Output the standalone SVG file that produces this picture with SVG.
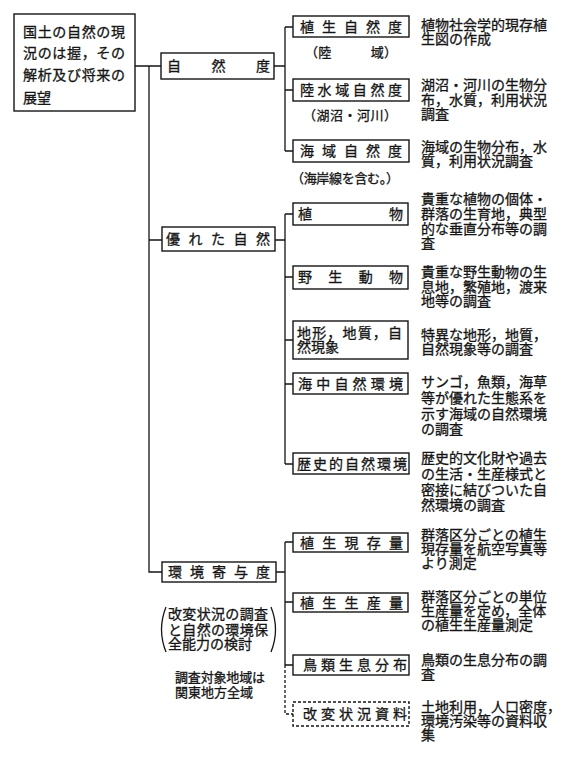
<svg xmlns="http://www.w3.org/2000/svg" width="568" height="757" viewBox="0 0 568 757">
<style>
text{font-family:"Noto Sans CJK JP","Noto Sans CJK SC",sans-serif;font-size:14px;fill:#141414;stroke:#141414;stroke-width:0.3}
.box{fill:#fff;stroke:#141414;stroke-width:1.4}
.dbox{fill:#fff;stroke:#141414;stroke-width:1.4;stroke-dasharray:3 2}
.ln{fill:none;stroke:#141414;stroke-width:1.3}
.dln{fill:none;stroke:#141414;stroke-width:1.3;stroke-dasharray:3 2}
.sm{font-size:13px}
</style>
<rect width="568" height="757" fill="#fff"/>
<g id="connectors">
<path class="ln" d="M135,66H161M149,66V572H162"/>
<path class="ln" d="M274,66H285M285,27V151M285,27H293M285,90H293M285,151H293"/>
<path class="ln" d="M149,240H162M275,240H285M285,214V464M285,214H293M285,277H293M285,340H293M285,384H293M285,464H293"/>
<path class="ln" d="M276,572H285M285,542V665M285,542H293M285,602H293M285,665H293"/>
<path class="dln" d="M285,665V714H293"/>
<path class="ln" d="M166,607Q157,629.5 166,652M271,607Q280,629.5 271,652"/>
</g>
<g id="root">
<rect class="box" x="14" y="14" width="121" height="97"/>
<text x="23" y="37" textLength="102" lengthAdjust="spacing">国土の自然の現</text>
<text x="23" y="58" textLength="102" lengthAdjust="spacing">況のは握，その</text>
<text x="23" y="80" textLength="102" lengthAdjust="spacing">解析及び将来の</text>
<text x="23" y="103">展望</text>
</g>
<g id="shizendo">
<rect class="box" x="161" y="53" width="113" height="26"/>
<text x="167" y="71" textLength="103" lengthAdjust="spacing">自然度</text>
</g>
<g id="shokusei-shizendo">
<rect class="box" x="293" y="16" width="116" height="21"/>
<text x="300" y="31.5" textLength="102" lengthAdjust="spacing">植生自然度</text>
<text class="sm" x="305" y="57" textLength="92" lengthAdjust="spacing">（陸　　　域）</text>
<text x="421" y="30">植物社会学的現存植</text>
<text x="421" y="44">生図の作成</text>
</g>
<g id="rikusuiiki">
<rect class="box" x="293" y="79" width="116" height="22"/>
<text x="300" y="95" textLength="102" lengthAdjust="spacing">陸水域自然度</text>
<text class="sm" x="303" y="120" textLength="94" lengthAdjust="spacing">（湖沼・河川）</text>
<text x="421" y="90">湖沼・河川の生物分</text>
<text x="421" y="105">布，水質，利用状況</text>
<text x="421" y="119">調査</text>
</g>
<g id="kaiiki">
<rect class="box" x="293" y="140" width="116" height="22"/>
<text x="300" y="156" textLength="102" lengthAdjust="spacing">海域自然度</text>
<text class="sm" x="291" y="183" textLength="108" lengthAdjust="spacing">（海岸線を含む。）</text>
<text x="421" y="152">海域の生物分布，水</text>
<text x="421" y="166">質，利用状況調査</text>
</g>
<g id="sugureta">
<rect class="box" x="162" y="227" width="113" height="24"/>
<text x="166" y="244" textLength="104" lengthAdjust="spacing">優れた自然</text>
</g>
<g id="shokubutsu">
<rect class="box" x="293" y="203" width="115" height="22"/>
<text x="298" y="219" textLength="105" lengthAdjust="spacing">植　　　　　物</text>
<text x="421" y="204">貴重な植物の個体・</text>
<text x="421" y="219">群落の生育地，典型</text>
<text x="421" y="234">的な垂直分布等の調</text>
<text x="421" y="248">査</text>
</g>
<g id="yasei">
<rect class="box" x="293" y="266" width="115" height="23"/>
<text x="298" y="282" textLength="105" lengthAdjust="spacing">野生動物</text>
<text x="421" y="277">貴重な野生動物の生</text>
<text x="421" y="292">息地，繁殖地，渡来</text>
<text x="421" y="306">地等の調査</text>
</g>
<g id="chikei">
<rect class="box" x="293" y="321" width="115" height="38"/>
<text x="297" y="338" textLength="105" lengthAdjust="spacing">地形，地質，自</text>
<text x="297" y="352">然現象</text>
<text x="421" y="340">特異な地形，地質，</text>
<text x="421" y="354">自然現象等の調査</text>
</g>
<g id="kaichu">
<rect class="box" x="293" y="373" width="115" height="21"/>
<text x="298" y="389" textLength="105" lengthAdjust="spacing">海中自然環境</text>
<text x="421" y="387">サンゴ，魚類，海草</text>
<text x="421" y="403">等が優れた生態系を</text>
<text x="421" y="419">示す海域の自然環境</text>
<text x="421" y="434">の調査</text>
</g>
<g id="rekishi">
<rect class="box" x="293" y="453" width="116" height="21"/>
<text x="297" y="469" textLength="110" lengthAdjust="spacing">歴史的自然環境</text>
<text x="421" y="463">歴史的文化財や過去</text>
<text x="421" y="479">の生活・生産様式と</text>
<text x="421" y="495">密接に結びついた自</text>
<text x="421" y="510">然環境の調査</text>
</g>
<g id="kankyo">
<rect class="box" x="162" y="562" width="114" height="20"/>
<text x="168" y="577" textLength="102" lengthAdjust="spacing">環境寄与度</text>
</g>
<g id="note1">
<text x="168" y="619" textLength="100" lengthAdjust="spacing">改変状況の調査</text>
<text x="168" y="635" textLength="100" lengthAdjust="spacing">と自然の環境保</text>
<text x="168" y="649">全能力の検討</text>
</g>
<g id="note2">
<text class="sm" x="175" y="682" textLength="90" lengthAdjust="spacing">調査対象地域は</text>
<text class="sm" x="175" y="697">関東地方全域</text>
</g>
<g id="genzonryo">
<rect class="box" x="293" y="533" width="115" height="19"/>
<text x="300" y="547.5" textLength="103" lengthAdjust="spacing">植生現存量</text>
<text x="421" y="540">群落区分ごとの植生</text>
<text x="421" y="554">現存量を航空写真等</text>
<text x="421" y="568">より測定</text>
</g>
<g id="seisanryo">
<rect class="box" x="293" y="593" width="115" height="19"/>
<text x="300" y="607.5" textLength="103" lengthAdjust="spacing">植生生産量</text>
<text x="421" y="602">群落区分ごとの単位</text>
<text x="421" y="616">生産量を定め，全体</text>
<text x="421" y="630">の植生生産量測定</text>
</g>
<g id="chorui">
<rect class="box" x="293" y="655" width="116" height="20"/>
<text x="303" y="670" textLength="104" lengthAdjust="spacing">鳥類生息分布</text>
<text x="421" y="665">鳥類の生息分布の調</text>
<text x="421" y="679">査</text>
</g>
<g id="kaihen">
<rect class="dbox" x="293" y="702" width="116" height="24"/>
<text x="303" y="719" textLength="104" lengthAdjust="spacing">改変状況資料</text>
<text x="421" y="712">土地利用，人口密度，</text>
<text x="421" y="726">環境汚染等の資料収</text>
<text x="421" y="740">集</text>
</g>
</svg>
